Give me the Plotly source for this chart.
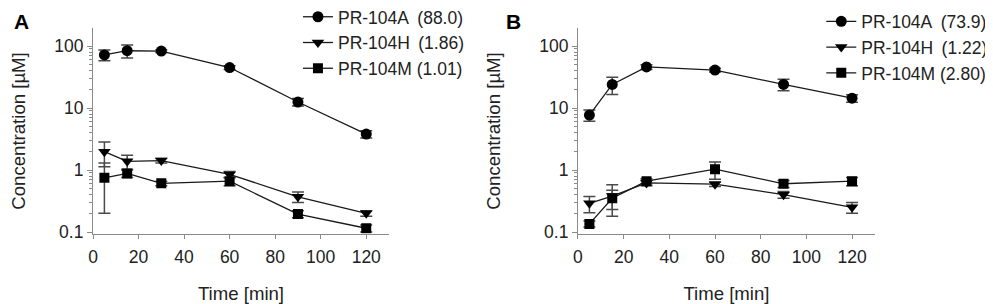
import plotly.graph_objects as go

time_min = [5, 15, 30, 60, 90, 120]

# Panel A
a_104A = [72, 84, 83, 45, 12.5, 3.8]
a_104A_err = [14, 20, 4, 3, 1.7, 0.5]
a_104H = [1.98, 1.38, 1.42, 0.85, 0.37, 0.20]
a_104H_err = [0.85, 0.35, 0.12, 0.1, 0.07, 0.02]
a_104M = [0.75, 0.88, 0.61, 0.66, 0.195, 0.115]
a_104M_err = [0.55, 0.12, 0.05, 0.1, 0.025, 0.015]

# Panel B
b_104A = [7.7, 24, 46, 41, 24, 14.4]
b_104A_err = [1.6, 7.5, 4, 3, 5, 2]
b_104H = [0.29, 0.38, 0.62, 0.59, 0.40, 0.25]
b_104H_err = [0.085, 0.2, 0.06, 0.05, 0.05, 0.05]
b_104M = [0.135, 0.35, 0.66, 1.03, 0.60, 0.66]
b_104M_err = [0.015, 0.12, 0.06, 0.32, 0.08, 0.1]

names_a = ["PR-104A\u2009 (88.0)", "PR-104H\u2009 (1.86)", "PR-104M (1.01)"]
names_b = ["PR-104A\u2009 (73.9)", "PR-104H\u2009 (1.22)", "PR-104M (2.80)"]
symbols = ["circle", "triangle-down", "square"]

FONT = "Liberation Sans, Arial, sans-serif"
LINE = "#1a1a1a"
ERR = "#4a4a4a"
AX = "#8a8a8a"

fig = go.Figure()

def add(x, y, err, name, sym, xa, ya, leg):
    fig.add_trace(go.Scatter(
        x=x, y=y, name=name, mode="lines+markers",
        xaxis=xa, yaxis=ya, legend=leg,
        line=dict(color=LINE, width=1.3),
        marker=dict(symbol=sym, size=11 if sym != "square" else 10, color="#000000"),
        error_y=dict(type="data", array=err, color=ERR, thickness=1.5, width=6),
    ))

add(time_min, a_104A, a_104A_err, names_a[0], symbols[0], "x", "y", "legend")
add(time_min, a_104H, a_104H_err, names_a[1], symbols[1], "x", "y", "legend")
add(time_min, a_104M, a_104M_err, names_a[2], symbols[2], "x", "y", "legend")
add(time_min, b_104A, b_104A_err, names_b[0], symbols[0], "x2", "y2", "legend2")
add(time_min, b_104H, b_104H_err, names_b[1], symbols[1], "x2", "y2", "legend2")
add(time_min, b_104M, b_104M_err, names_b[2], symbols[2], "x2", "y2", "legend2")

ymajor = [0.1, 1, 10, 100]
ylabels = ["0.1", "1", "10", "100"]
yminor = [m * d for d in [0.1, 1, 10, 100] for m in range(2, 10)]
xticks = [0, 20, 40, 60, 80, 100, 120]

TICKF = dict(family=FONT, size=17.5, color="#222")
TITLEF = dict(family=FONT, size=18.6, color="#222")

xcommon = dict(range=[0, 130], tickvals=xticks, ticks="outside", ticklen=4,
               tickcolor=AX, showline=True, linecolor=AX, linewidth=1.2,
               showgrid=False, zeroline=False, tickfont=TICKF, ticklabelstandoff=3,
               title=dict(text="Time [min]", standoff=21, font=TITLEF),
               automargin=False)
ycommon = dict(type="log", range=[-1.03, 2.29], tickvals=ymajor, ticktext=ylabels,
               ticks="outside", ticklen=5, tickcolor=AX,
               minor=dict(tickvals=yminor, ticks="outside", ticklen=3, tickcolor=AX, showgrid=False),
               showline=True, linecolor=AX, linewidth=1.2, showgrid=False, zeroline=False,
               tickfont=TICKF, ticklabelstandoff=0,
               title=dict(text="Concentration [µM]", standoff=33, font=TITLEF),
               automargin=False)

LEGF = dict(family=FONT, size=17.5, color="#222")

fig.update_layout(
    width=993, height=304,
    margin=dict(l=0, r=0, t=0, b=0, autoexpand=False),
    paper_bgcolor="white", plot_bgcolor="white",
    font=dict(family=FONT, size=17, color="#222"),
    xaxis=dict(domain=[0.0856, 0.3837], anchor="y", **xcommon),
    yaxis=dict(domain=[0.257, 0.934], anchor="x", **ycommon),
    xaxis2=dict(domain=[0.574, 0.873], anchor="y2", **xcommon),
    yaxis2=dict(domain=[0.257, 0.934], anchor="x2", **ycommon),
    legend=dict(x=0.292, y=1.03, xanchor="left", yanchor="top",
                bgcolor="rgba(0,0,0,0)", font=LEGF, tracegroupgap=0, itemwidth=30),
    legend2=dict(x=0.819, y=1.015, xanchor="left", yanchor="top",
                 bgcolor="rgba(0,0,0,0)", font=LEGF, tracegroupgap=0, itemwidth=30),
    annotations=[
        dict(text="<b>A</b>", x=0.004, y=1.0, xref="paper", yref="paper",
             xanchor="left", yanchor="top", showarrow=False,
             font=dict(family=FONT, size=21, color="#000")),
        dict(text="<b>B</b>", x=0.499, y=1.0, xref="paper", yref="paper",
             xanchor="left", yanchor="top", showarrow=False,
             font=dict(family=FONT, size=21, color="#000")),
    ],
)

fig.write_html("out.html")
